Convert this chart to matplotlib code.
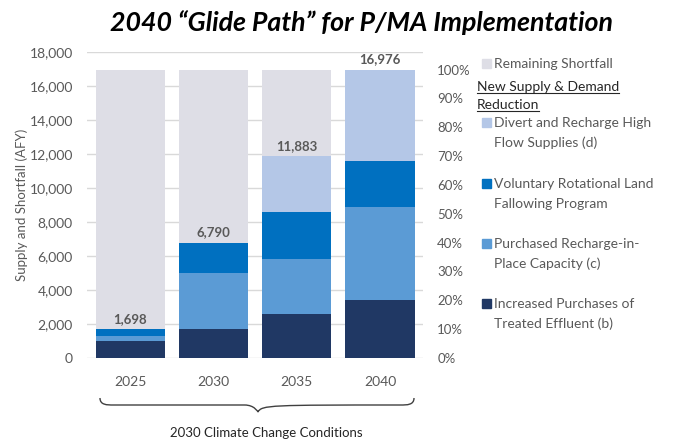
import matplotlib
matplotlib.use("Agg")
import matplotlib.pyplot as plt
from matplotlib.path import Path
from matplotlib.patches import PathPatch, Rectangle

plt.rcParams['font.family'] = ['Lato', 'DejaVu Sans']

years = ["2025", "2030", "2035", "2040"]
effluent = [1000, 1710, 2575, 3440]
recharge = [280, 3300, 3280, 5420]
fallowing = [418, 1780, 2730, 2750]
divert = [0, 0, 3298, 5366]
totals = [1698, 6790, 11883, 16976]
goal = 16976
shortfall = [goal - t for t in totals]

series = [
    ("Increased Purchases of\nTreated Effluent (b)", effluent, "#203864"),
    ("Purchased Recharge-in-\nPlace Capacity (c)", recharge, "#5B9BD5"),
    ("Voluntary Rotational Land\nFallowing Program", fallowing, "#0070C0"),
    ("Divert and Recharge High\nFlow Supplies (d)", divert, "#B4C7E7"),
    ("Remaining Shortfall", shortfall, "#DEDEE6"),
]

gray = "#595959"

fig = plt.figure(figsize=(6.73, 4.42), dpi=100)
ax = fig.add_axes([0.129, 0.19, 0.50, 0.692])

x = list(range(len(years)))
bottom = [0] * len(years)
for name, vals, col in series:
    ax.bar(x, vals, bottom=bottom, width=0.83, color=col, zorder=2)
    bottom = [b + v for b, v in zip(bottom, vals)]

for xi, t in zip(x, totals):
    ax.text(xi, t + 250, f"{t:,}", ha="center", va="bottom", fontsize=9.5,
            fontweight="bold", color=gray, zorder=3)

ax.set_xlim(-0.52, 3.52)
ax.set_ylim(0, 18000)
ax.set_yticks(range(0, 18001, 2000))
ax.set_yticklabels([f"{v:,}" for v in range(0, 18001, 2000)])
ax.set_xticks(x)
ax.set_xticklabels(years)
ax.grid(axis="y", color="#D9D9D9", linewidth=1, zorder=0)
ax.tick_params(axis="y", length=0, pad=10, labelsize=10, labelcolor=gray)
ax.tick_params(axis="x", length=0, pad=13, labelsize=10, labelcolor=gray)
for s in ax.spines.values():
    s.set_visible(False)
ax.set_ylabel("Supply and Shortfall (AFY)", fontsize=9.5, color=gray, labelpad=1)

ax2 = ax.twinx()
ax2.set_ylim(0, 18000 / goal * 100)
ax2.set_yticks(range(0, 101, 10))
ax2.set_yticklabels([f"{v}%" for v in range(0, 101, 10)])
ax2.tick_params(axis="y", length=0, pad=10, labelsize=9.5, labelcolor=gray)
for s in ax2.spines.values():
    s.set_visible(False)

fig.text(0.537, 0.95, "2040 \u201cGlide Path\u201d for P/MA Implementation",
         ha="center", va="center", fontsize=19.3, fontweight="bold",
         fontstyle="italic", color="black")

# legend built by hand
W, H = 673, 442
def fx(px):
    return px / W
def fy(py):
    return 1 - py / H

leg = [
    (64, None, series[4][0], series[4][2]),
    (123, 143, "Divert and Recharge High", series[3][2], "Flow Supplies (d)"),
    (184, 204, "Voluntary Rotational Land", series[2][2], "Fallowing Program"),
    (244, 264, "Purchased Recharge-in-", series[1][2], "Place Capacity (c)"),
    (304, 324, "Increased Purchases of", series[0][2], "Treated Effluent (b)"),
]
for item in leg:
    y1, y2, txt, col = item[0], item[1], item[2], item[3]
    fig.add_artist(Rectangle((fx(482), fy(y1 + 4)), 9 / W, 9 / H,
                             transform=fig.transFigure, color=col))
    fig.text(fx(494), fy(y1), txt, fontsize=10, color=gray, va="center")
    if y2 is not None:
        fig.text(fx(494), fy(y2), item[4], fontsize=10, color=gray, va="center")

h1 = fig.text(fx(477), fy(87), "New Supply & Demand", fontsize=10, color="#262626", va="center")
h2 = fig.text(fx(477), fy(105), "Reduction", fontsize=10, color="#262626", va="center")
fig.canvas.draw()
r = fig.canvas.get_renderer()
for h in (h1, h2):
    bb = h.get_window_extent(r).transformed(fig.transFigure.inverted())
    fig.add_artist(plt.Line2D([bb.x0, bb.x1], [bb.y0 + 0.001, bb.y0 + 0.001],
                              transform=fig.transFigure, color="#262626", lw=0.8))

# curly brace under the years
xl, xr, xm = fx(100), fx(414), fx(258)
yt, yb = fy(398), fy(412)
ymid = (yt + yb) / 2
verts = [(xl, yt), (xl, ymid), (xl + 0.01, ymid), (xl + 0.02, ymid),
         (xm - 0.02, ymid), (xm - 0.005, ymid), (xm, yb),
         (xm, yb), (xm + 0.005, ymid), (xm + 0.02, ymid),
         (xr - 0.02, ymid), (xr - 0.01, ymid), (xr, ymid), (xr, yt)]
codes = [Path.MOVETO, Path.CURVE4, Path.CURVE4, Path.LINETO,
         Path.LINETO, Path.CURVE4, Path.CURVE4,
         Path.MOVETO, Path.CURVE4, Path.CURVE4,
         Path.LINETO, Path.CURVE4, Path.CURVE4, Path.CURVE4]
fig.add_artist(PathPatch(Path(verts, codes), transform=fig.transFigure,
                         fill=False, edgecolor="#404040", lw=1))

fig.text(fx(266), fy(433), "2030 Climate Change Conditions", ha="center",
         va="center", fontsize=9.5, color="#262626")

fig.savefig("out.png", dpi=100)
